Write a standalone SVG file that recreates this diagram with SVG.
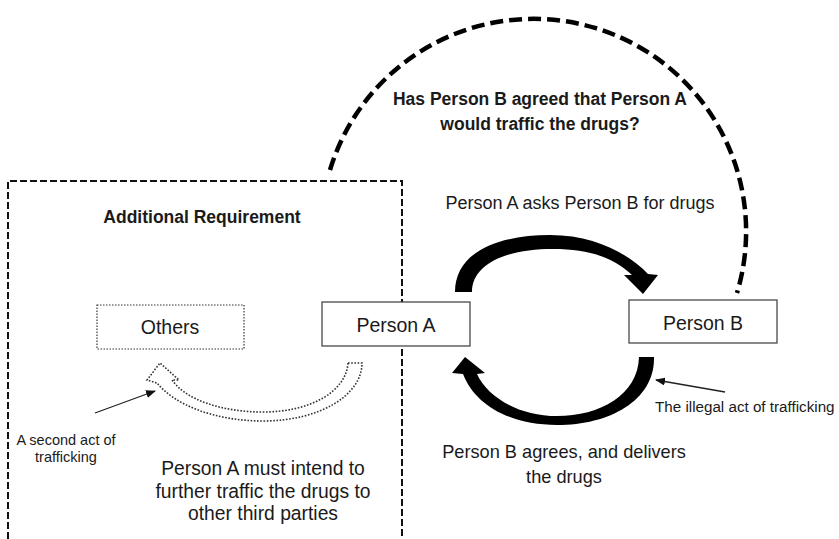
<svg xmlns="http://www.w3.org/2000/svg" width="839" height="539" viewBox="0 0 839 539">
<style>
text{font-family:"Liberation Sans",Arial,sans-serif;fill:#1a1a1a}
.b{font-weight:bold}
.box{fill:#fff;stroke:#3a3a3a;stroke-width:1.2}
.dot{fill:none;stroke:#333;stroke-width:1.6;stroke-dasharray:1.6 1.6}
.thin{stroke:#222;stroke-width:1.3;fill:none}
</style>
<defs>
<marker id="ah" viewBox="0 0 10 8" refX="9" refY="4" markerWidth="10" markerHeight="8" markerUnits="userSpaceOnUse" orient="auto">
<path d="M0 0 L10 4 L0 8 Z" fill="#111"/>
</marker>
</defs>
<rect width="839" height="539" fill="#fff"/>
<g id="requirement-box">
<path d="M8 539 L8 181 L402 181 L402 539" fill="none" stroke="#111" stroke-width="2" stroke-dasharray="7 3"/>
<text class="b" x="202" y="223" font-size="17.5" text-anchor="middle">Additional Requirement</text>
</g>
<g id="connectors">
<path d="M330 170 A212 212 0 1 1 737 293" fill="none" stroke="#000" stroke-width="4.5" stroke-dasharray="13 6"/>
<path d="M455 292 C455 252,498 235,550 235 C596 235,630 255,648 274 L658 275 L643 294 L624 275 L632 275 C614 258,590 249,553 249 C506 249,472 264,472 292 Z" fill="#000"/>
<path d="M654 357 C655 400,610 425,557 425 C510 425,475 405,463 374 L452 373 L465 357 L485 373 L477 374 C488 398,520 416,557 416 C600 416,638 395,639 357 Z" fill="#000"/>
<path class="dot" d="M348 363 L362 363 C362 395,320 421,263 421 C215 421,175 405,157 383 L147 380 L160 363 L179 380 L172 380 C186 400,222 412,263 412 C310 412,346 392,348 363 Z"/>
<line class="thin" x1="95" y1="413" x2="155" y2="391" marker-end="url(#ah)"/>
<line class="thin" x1="725" y1="392" x2="656" y2="380" marker-end="url(#ah)"/>
</g>
<g id="question">
<text class="b" x="540" y="105" font-size="17.5" text-anchor="middle">Has Person B agreed that Person A</text>
<text class="b" x="540" y="130" font-size="17.5" text-anchor="middle">would traffic the drugs?</text>
</g>
<g id="label-ask">
<text x="580" y="209" font-size="18" text-anchor="middle">Person A asks Person B for drugs</text>
</g>
<g id="others">
<rect x="97" y="305" width="147" height="44" fill="#fff" stroke="#333" stroke-width="1.2" stroke-dasharray="1.5 1.5"/>
<text x="170" y="334" font-size="19.5" text-anchor="middle">Others</text>
</g>
<g id="person-a">
<rect class="box" x="322" y="302" width="148" height="44"/>
<text x="396" y="332" font-size="19.5" text-anchor="middle">Person A</text>
</g>
<g id="person-b">
<rect class="box" x="629" y="300" width="148" height="43"/>
<text x="703" y="330" font-size="19.5" text-anchor="middle">Person B</text>
</g>
<g id="label-illegal">
<text x="655" y="412" font-size="15.2">The illegal act of trafficking</text>
</g>
<g id="label-second">
<text x="66" y="445" font-size="14.5" text-anchor="middle">A second act of</text>
<text x="66" y="462" font-size="14.5" text-anchor="middle">trafficking</text>
</g>
<g id="label-intend">
<text x="263" y="475" font-size="19.3" text-anchor="middle">Person A must intend to</text>
<text x="263" y="498" font-size="19.3" text-anchor="middle">further traffic the drugs to</text>
<text x="263" y="520" font-size="19.3" text-anchor="middle">other third parties</text>
</g>
<g id="label-deliver">
<text x="564" y="458" font-size="18.2" text-anchor="middle">Person B agrees, and delivers</text>
<text x="564" y="483" font-size="18.2" text-anchor="middle">the drugs</text>
</g>
</svg>
